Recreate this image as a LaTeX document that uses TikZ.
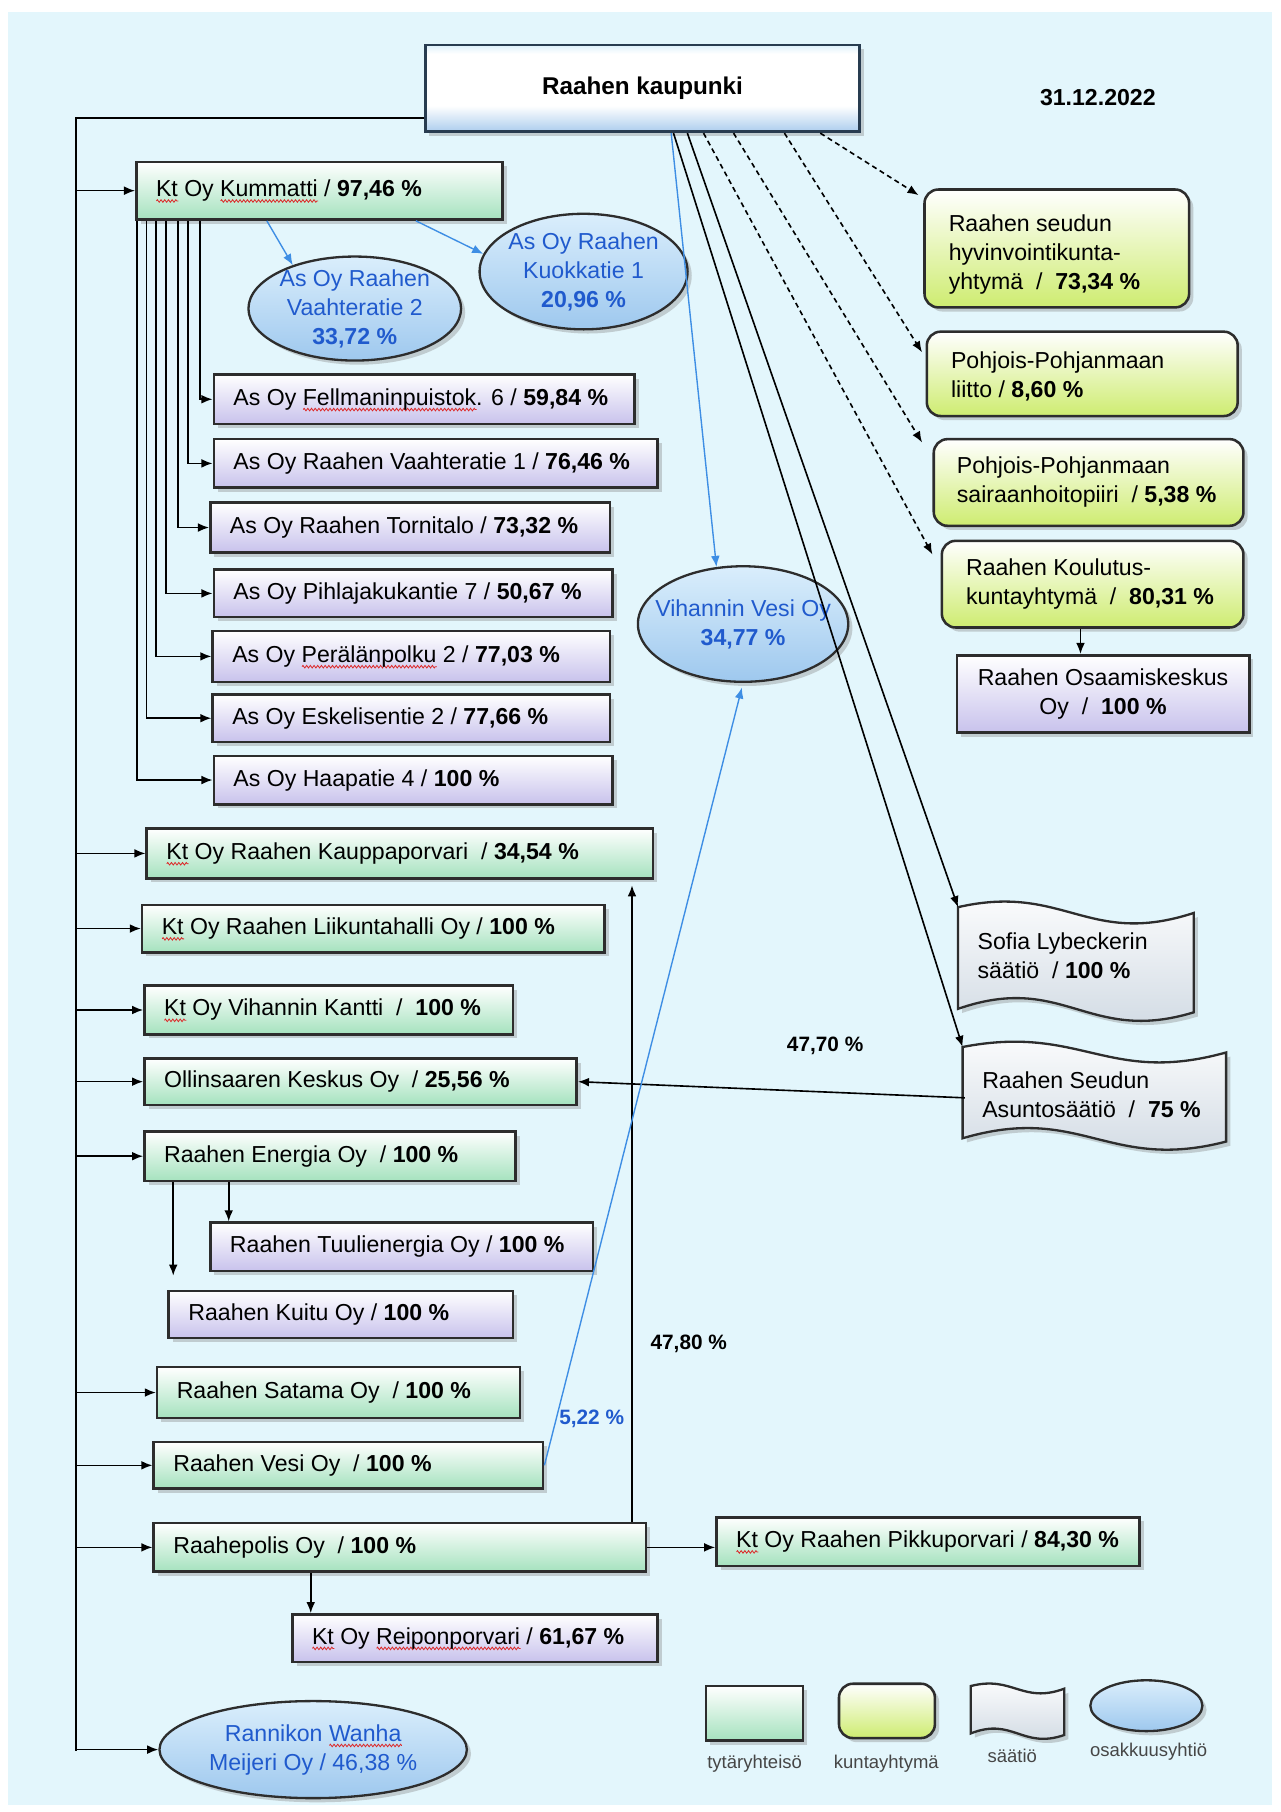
\documentclass[tikz,border=0pt]{standalone}
\usepackage{fontspec}
\setmainfont{Liberation Sans}
\usetikzlibrary{shapes.geometric,shadows,arrows.meta,calc,decorations.pathmorphing}

\definecolor{bgc}{RGB}{227,246,252}
\definecolor{bord}{RGB}{45,45,45}
\definecolor{tgreen}{RGB}{165,226,190}
\definecolor{tlav}{RGB}{200,194,236}
\definecolor{tkunta}{RGB}{206,236,112}
\definecolor{elltop}{RGB}{218,238,252}
\definecolor{ellbot}{RGB}{158,200,238}
\definecolor{elltext}{RGB}{32,90,205}
\definecolor{bluel}{RGB}{62,142,228}
\definecolor{sqred}{RGB}{220,40,40}
\definecolor{rk1}{RGB}{135,205,242}
\definecolor{rk3}{RGB}{100,162,222}
\definecolor{rkb}{RGB}{40,60,80}
\definecolor{wavebot}{RGB}{205,215,225}
\definecolor{lgtext}{RGB}{70,70,70}

\newsavebox\sqbox
\newcommand\sq[1]{\sbox\sqbox{#1}\rlap{\raisebox{-2.6pt}[0pt][0pt]{\tikz[x=1pt,y=1pt]\draw[sqred,line width=0.35pt] decorate[decoration={zigzag,segment length=1.6pt,amplitude=0.55pt}]{(0,0)--(\the\wd\sqbox,0)};}}#1}

\pgfdeclareverticalshading{raaheshade}{100bp}{color(0bp)=(rk3); color(12bp)=(rk3); color(40bp)=(white); color(70bp)=(white); color(88bp)=(rk1); color(100bp)=(rk1)}

% single-line box: [pad]{name}{x1}{y1}{x2}{y2}{style}{text}
\newcommand\bx[8][8.5]{%
 \pgfmathsetmacro\bxw{(#5-#3)*0.5-2*#1}%
 \pgfmathsetmacro\bxh{(#6-#4)*0.5}%
 \node[#7, inner xsep=#1pt, inner ysep=0pt, minimum height=\bxh pt] (#2) at ({(#3+#5)/2},{(#4+#6)/2}) {\makebox[\bxw pt][l]{#8}};}
% multi-line box, left aligned, no wrapping
\newcommand\mbx[8][10.5]{%
 \pgfmathsetmacro\bxw{(#5-#3)*0.5-2*#1}%
 \pgfmathsetmacro\bxh{(#6-#4)*0.5}%
 \node[#7, inner xsep=#1pt, inner ysep=0pt, minimum height=\bxh pt] (#2) at ({(#3+#5)/2},{(#4+#6)/2}) {\makebox[\bxw pt][l]{\begin{tabular}{@{}l@{}}#8\end{tabular}}};}
% multi-line box, centred
\newcommand\cbx[7]{%
 \pgfmathsetmacro\bxw{(#4-#2)*0.5}%
 \pgfmathsetmacro\bxh{(#5-#3)*0.5}%
 \node[#6, inner sep=0pt, minimum width=\bxw pt, minimum height=\bxh pt] (#1) at ({(#2+#4)/2},{(#3+#5)/2}) {\begin{tabular}{@{}c@{}}#7\end{tabular}};}
% wave shape: x1 y1 x2 y2 scale
\newcommand\wavebox[5]{%
 \draw[wavest] (#1,#2) .. controls ({#1+0.45*(#3-#1)},{#2-21*#5}) and ({#1+0.55*(#3-#1)},{#2+35*#5}) .. (#3,{#2+5*#5})
  -- (#3,{#4+3*#5}) .. controls ({#1+0.55*(#3-#1)},{#4+31*#5}) and ({#1+0.45*(#3-#1)},{#4-32*#5}) .. (#1,#4) -- cycle;}
% ellipse: name x y w h text
\newcommand\ovl[6]{%
 \node[osak, minimum width=#4pt, minimum height=#5pt] (#1) at (#2,#3) {};
 \node[ostext] (#1t) at (#1.center) {#6};}

\tikzset{
 shad/.style={drop shadow={shadow xshift=1.8pt, shadow yshift=-1.8pt, opacity=0.35}},
 base/.style={draw=bord, line width=1.1pt, font=\fontsize{10}{12.5}\selectfont, shad},
 tyt/.style={base, top color=white, bottom color=tgreen},
 lav/.style={base, top color=white, bottom color=tlav},
 kunta/.style={base, rounded corners=6pt, top color=white, bottom color=tkunta},
 osak/.style={ellipse, draw=bord, line width=1pt, top color=elltop, bottom color=ellbot, inner sep=0pt, shad},
 ostext/.style={text=elltext, font=\fontsize{10}{12.5}\selectfont, align=center, inner sep=0pt},
 wavest/.style={draw=bord, line width=1pt, top color=white, bottom color=wavebot, shad},
 wtext/.style={font=\fontsize{10}{12.5}\selectfont},
 conn/.style={line width=0.7pt, black},
 arr/.style={conn, -{Latex[length=4.8pt,width=3.8pt]}},
 darr/.style={arr, dash pattern=on 2.2pt off 1.6pt},
 barr/.style={line width=0.6pt, bluel, -{Latex[length=4.8pt,width=3.8pt]}},
 pct/.style={font=\fontsize{9}{11}\selectfont\bfseries},
 lgt/.style={font=\fontsize{8}{10}\selectfont, text=lgtext},
}

\begin{document}
\begin{tikzpicture}[x=0.5pt,y=-0.5pt]
\useasboundingbox (0,0) rectangle (1108.5,1568);
\fill[bgc] (7,10) rectangle (1101,1562);

% top
\node[draw=rkb, line width=1.2pt, shading=raaheshade, minimum width=188pt, minimum height=37.5pt,
  font=\fontsize{10.5}{12}\selectfont\bfseries, shad] (raahe) at (556,76.5) {Raahen kaupunki};
\node[font=\fontsize{10}{12}\selectfont\bfseries] (date) at (950,84) {31.12.2022};

% left column
\bx{kummatti}{118}{140}{435}{190}{tyt}{\sq{Kt} Oy \sq{Kummatti} / \textbf{97,46 \%}}
\bx{fell}{185}{324}{549}{367}{lav}{As Oy \sq{Fellmaninpuistok}. 6 / \textbf{59,84 \%}}
\bx{vaah1}{185}{380}{569}{422}{lav}{As Oy Raahen Vaahteratie 1 / \textbf{76,46 \%}}
\bx{torni}{182}{435}{528}{478}{lav}{As Oy Raahen Tornitalo / \textbf{73,32 \%}}
\bx{pihla}{185}{493}{530}{534}{lav}{As Oy Pihlajakukantie 7 / \textbf{50,67 \%}}
\bx{peral}{184}{546}{528}{590}{lav}{As Oy \sq{Perälänpolku} 2 / \textbf{77,03 \%}}
\bx{eskel}{184}{601}{528}{642}{lav}{As Oy Eskelisentie 2 / \textbf{77,66 \%}}
\bx{haapa}{185}{654}{530}{696}{lav}{As Oy Haapatie 4 / \textbf{100 \%}}
\bx{kauppa}{127}{717}{565}{760}{tyt}{\sq{Kt} Oy Raahen Kauppaporvari~ / \textbf{34,54 \%}}
\bx{liikunta}{123}{783}{523}{824}{tyt}{\sq{Kt} Oy Raahen Liikuntahalli Oy / \textbf{100 \%}}
\bx{kantti}{125}{853}{444}{895}{tyt}{\sq{Kt} Oy Vihannin Kantti~ /~ \textbf{100 \%}}
\bx{olli}{125}{916}{499}{956}{tyt}{Ollinsaaren Keskus Oy~ / \textbf{25,56 \%}}
\bx{energia}{125}{979}{446}{1022}{tyt}{Raahen Energia Oy~ / \textbf{100 \%}}
\bx{tuuli}{182}{1058}{513}{1100}{lav}{Raahen Tuulienergia Oy / \textbf{100 \%}}
\bx{kuitu}{146}{1117}{444}{1158}{lav}{Raahen Kuitu Oy / \textbf{100 \%}}
\bx{satama}{136}{1183}{450}{1227}{tyt}{Raahen Satama Oy~ / \textbf{100 \%}}
\bx{vesi}{133}{1248}{470}{1288}{tyt}{Raahen Vesi Oy~ / \textbf{100 \%}}
\bx{polis}{133}{1318}{559}{1360}{tyt}{Raahepolis Oy~ / \textbf{100 \%}}
\bx{reipon}{253}{1397}{569}{1438}{lav}{\sq{Kt} Oy \sq{Reiponporvari} / \textbf{61,67 \%}}
\bx{pikku}{620}{1313}{986}{1355}{tyt}{\sq{Kt} Oy Raahen Pikkuporvari / \textbf{84,30 \%}}

% right column
\mbx{hyv}{800}{164}{1029}{266}{kunta}{\rule{0pt}{14pt}Raahen seudun\\hyvinvointikunta-\\yhtymä~ /~ \textbf{73,34 \%}}
\mbx{liitto}{802}{287}{1071}{360}{kunta}{\rule{0pt}{12pt}Pohjois-Pohjanmaan\\liitto / \textbf{8,60 \%}}
\mbx[10]{sair}{808}{380}{1076}{455}{kunta}{Pohjois-Pohjanmaan\\sairaanhoitopiiri~ / \textbf{5,38 \%}}
\mbx{koul}{815}{468}{1076}{543}{kunta}{Raahen Koulutus-\\kuntayhtymä~ /~ \textbf{80,31 \%}}
\cbx{osaam}{828}{567}{1081}{634}{lav}{Raahen Osaamiskeskus\\Oy~ /~ \textbf{100 \%}}

\wavebox{829}{785}{1033}{873}{1}
\mbx[8.5]{sofia}{829}{785}{1033}{873}{wtext}{Sofia Lybeckerin\\säätiö~ / \textbf{100 \%}}
\wavebox{833}{906}{1061}{985}{0.95}
\mbx[8.5]{asunto}{833}{906}{1061}{985}{wtext, yshift=-2pt}{Raahen Seudun\\Asuntosäätiö~ /~ \textbf{75 \%}}

% ellipses
\ovl{vaah2}{307}{267}{92}{45}{As Oy Raahen\\Vaahteratie 2\\\textbf{33,72 \%}}
\ovl{kuok}{505}{235}{90}{50}{As Oy Raahen\\Kuokkatie 1\\\textbf{20,96 \%}}
\ovl{vih}{643}{540}{91}{50}{Vihannin Vesi Oy\\\textbf{34,77 \%}}
\ovl{rann}{271}{1514}{133}{42}{Rannikon \sq{Wanha}\\Meijeri Oy / 46,38 \%}

% legend
\node[tyt, minimum width=42pt, minimum height=23.5pt, inner sep=0pt] (lg1) at (653,1482.5) {};
\node[kunta, minimum width=41.5pt, minimum height=23.5pt, inner sep=0pt] (lg2) at (767.5,1480.5) {};
\wavebox{840}{1459}{921}{1500}{0.45}
\node[osak, minimum width=48.5pt, minimum height=22pt] (lg4) at (992,1476) {};
\node[lgt] (lt1) at (653,1526) {tytäryhteisö};
\node[lgt] (lt2) at (767,1526) {kuntayhtymä};
\node[lgt] (lt3) at (876,1519) {säätiö};
\node[lgt] (lt4) at (994,1516) {osakkuusyhtiö};

% trunk
\coordinate (tb) at (66,1515);
\draw[conn] ([yshift=6.5pt]raahe.south west) -| (tb);
\foreach \n in {kummatti,kauppa,liikunta,kantti,olli,energia,satama,vesi,polis,rann}
  \draw[arr] (\n.west -| tb) -- (\n.west);

% Kummatti children
\foreach \n/\dx in {fell/28,vaah1/23,torni/18.5,pihla/13.5,peral/9,eskel/5,haapa/0.7}
  \draw[arr] ([xshift=\dx pt]kummatti.south west) |- (\n.west);
\draw[barr] ([xshift=57pt]kummatti.south west) -- (vaah2.145);
\draw[barr] ([xshift=121.5pt]kummatti.south west) -- (kuok.170);

% from Raahen kaupunki
\draw[darr] ([xshift=171.5pt]raahe.south west) -- ([xshift=-2pt,yshift=-3pt]hyv.north west);
\draw[darr] ([xshift=156pt]raahe.south west) -- ([xshift=-1.5pt,yshift=-9.5pt]liitto.north west);
\draw[darr] ([xshift=134pt]raahe.south west) -- ([xshift=-4.5pt,yshift=-2pt]sair.north west);
\draw[darr] ([xshift=121pt]raahe.south west) -- ([xshift=-3.5pt,yshift=-6.5pt]koul.north west);
\coordinate (sofiatip) at (829,785);
\coordinate (asuntotip) at (833,906);
\draw[arr] ([xshift=114pt]raahe.south west) -- (sofiatip);
\draw[arr] ([xshift=108pt]raahe.south west) -- (asuntotip);
\draw[barr] ([xshift=107pt]raahe.south west) -- (vih.115);
\coordinate (k1) at ([xshift=-5.25pt]koul.south);
\draw[arr] (k1) -- (k1 |- osaam.north);

% Asuntosaatio -> Ollinsaaren
\coordinate (asw) at (835,950);
\draw[arr] (asw) -- (olli.east);
\node[pct] (p4770) at (714,905) {47,70 \%};

% Energia children
\coordinate (e1) at ([xshift=13pt]energia.south west);
\draw[arr, shorten >=6pt] (e1) -- (e1 |- kuitu.north);
\coordinate (e2) at ([xshift=37pt]energia.south west);
\draw[arr] (e2) -- (e2 |- tuuli.north);

% Raahepolis
\coordinate (p1) at ([xshift=207.5pt]polis.north west);
\draw[arr, shorten >=2.5pt] (p1) -- (p1 |- kauppa.south);
\node[pct] (p4780) at (596,1163) {47,80 \%};
\draw[arr] (polis.east) -- (polis.east -| pikku.west);
\coordinate (p2) at ([xshift=68.5pt]polis.south west);
\draw[arr] (p2) -- (p2 |- reipon.north);

% Raahen Vesi -> Vihannin Vesi
\draw[barr, shorten >=2pt] (vesi.east) -- (vih.south);
\node[pct, text=elltext] (p522) at (512,1228) {5,22 \%};
\end{tikzpicture}
\end{document}
